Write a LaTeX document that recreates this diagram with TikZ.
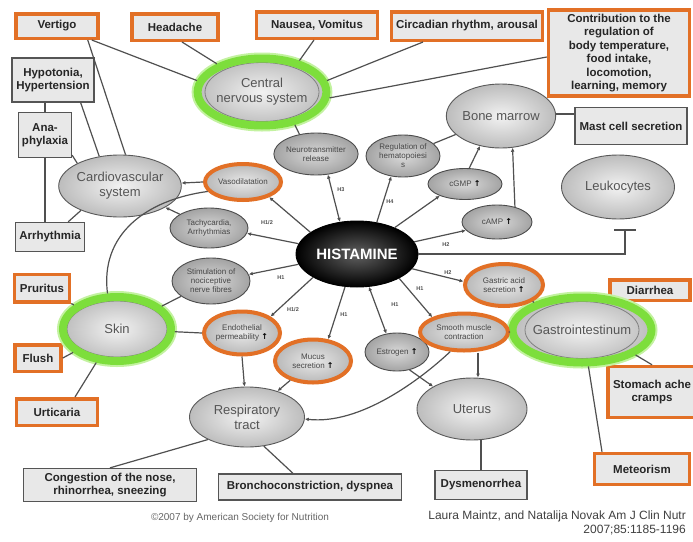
\documentclass[tikz,border=0pt]{standalone}
\usepackage{fontspec}
\setmainfont{Liberation Sans}
\newfontfamily\djv{DejaVu Sans}
\usetikzlibrary{shapes.geometric,arrows.meta}
\definecolor{ob}{RGB}{226,112,38}
\definecolor{gr}{RGB}{125,222,60}
\definecolor{grl}{RGB}{195,242,160}
\definecolor{bxf}{RGB}{232,232,232}
\definecolor{bxd}{RGB}{85,85,85}
\definecolor{lnc}{RGB}{80,80,80}
\definecolor{txg}{RGB}{85,85,85}
\newcommand{\upar}{{\djv\bfseries\color{black}↑}}
\begin{document}
\begin{tikzpicture}[x=1pt,y=-1pt,
 box/.style={rectangle, fill=bxf, align=center, inner sep=1pt, text=black!85, font=\bfseries\fontsize{11.5}{13.5}\selectfont},
 obox/.style={box, draw=ob, line width=3.5pt},
 gbox/.style={box, draw=bxd, line width=1.3pt},
 bigell/.style={ellipse, draw=black!65, line width=0.9pt, shade, inner color=gray!10, outer color=gray!52, align=center, inner sep=0pt, text=txg, font=\fontsize{13}{15}\selectfont},
 smell/.style={ellipse, draw=black!70, line width=0.9pt, shade, inner color=gray!30, outer color=gray!72, align=center, inner sep=0pt, text=black!72, font=\fontsize{8}{9}\selectfont},
 oring/.style={draw=ob, line width=4pt, inner color=gray!18, outer color=gray!55},
 gring/.style 2 args={draw=gr, line width=8pt, preaction={draw=grl, line width=12pt},
   path picture={\draw[black!50, line width=0.8pt] (path picture bounding box.center) ellipse [x radius=#1, y radius=#2];}},
 ln/.style={draw=lnc, line width=1.2pt},
 arr/.style={ln, -{Latex[length=4pt,width=3.8pt]}},
 darr/.style={ln, {Latex[length=4pt,width=3.8pt]}-{Latex[length=4pt,width=3.8pt]}},
 hl/.style={font=\bfseries\fontsize{5.5}{6}\selectfont, text=black!70, inner sep=0pt}
]
\fill[white] (0,0) rectangle (693,541);
\useasboundingbox (0,0) rectangle (693,541);

% boxes
\node[obox, minimum width=82, minimum height=24.5] (vert) at (57,26) {Vertigo};
\node[obox, minimum width=86, minimum height=26.5] (head) at (175,27) {Headache};
\node[obox, minimum width=121, minimum height=26.5] (naus) at (317,25) {Nausea, Vomitus};
\node[obox, minimum width=151, minimum height=28.5] (circ) at (467,26) {Circadian rhythm, arousal};
\node[obox, minimum width=141, minimum height=86] (contr) at (619,53) {Contribution to the\\regulation of\\body temperature,\\food intake,\\locomotion,\\learning, memory};
\node[obox, minimum width=55, minimum height=27.5] (prur) at (42,288) {Pruritus};
\node[obox, minimum width=46, minimum height=26.5] (flush) at (38,358) {Flush};
\node[obox, minimum width=81, minimum height=26.5] (urt) at (57,412) {Urticaria};
\node[obox, minimum width=80, minimum height=20.5] (diar) at (650,290) {Diarrhea};
\node[obox, minimum width=88, minimum height=51] (stom) at (652,392) {Stomach ache\\cramps};
\node[obox, minimum width=95, minimum height=31] (meteor) at (642,469) {Meteorism};
\node[gbox, minimum width=82, minimum height=44] (hypo) at (53,80) {Hypotonia,\\Hypertension};
\node[gbox, minimum width=53, minimum height=45] (ana) at (45,135) {Ana-\\phylaxia};
\node[gbox, minimum width=69, minimum height=29] (arr) at (50,237) {Arrhythmia};
\node[gbox, minimum width=112, minimum height=37] (mast) at (631,126) {Mast cell secretion};
\node[gbox, minimum width=92, minimum height=29] (dysm) at (481,485) {Dysmenorrhea};
\node[gbox, minimum width=173, minimum height=33] (cong) at (110,485) {Congestion of the nose,\\rhinorrhea, sneezing};
\node[gbox, minimum width=183, minimum height=26] (bron) at (310,487) {Bronchoconstriction, dyspnea};

% big ellipses
\node[bigell, gring={57pt}{29.5pt}, minimum width=122, minimum height=67] (cns) at (262,92) {Central\\nervous system};
\node[bigell, gring={50pt}{28pt}, minimum width=108, minimum height=64] (skin) at (117,329) {Skin};
\node[bigell, gring={57pt}{28.5pt}, minimum width=123, minimum height=65] (gastro) at (582,330) {Gastrointestinum};
\node[bigell, minimum width=110, minimum height=62] (cv) at (120,186) {Cardiovascular\\system};
\node[bigell, minimum width=102, minimum height=64] (bm) at (501,116) {Bone marrow};
\node[bigell, minimum width=113, minimum height=64] (leuk) at (618,187) {Leukocytes};
\node[bigell, minimum width=115, minimum height=60] (resp) at (247,417) {Respiratory\\tract};
\node[bigell, minimum width=110, minimum height=62] (uterus) at (472,409) {Uterus};
\node[ellipse, draw=black, line width=0.9pt, shade, inner color=black!62, outer color=black, minimum width=122, minimum height=66, inner sep=0pt, text=white, font=\bfseries\fontsize{15}{17}\selectfont] (hist) at (357,254) {HISTAMINE};

% small ellipses
\node[smell, minimum width=82, minimum height=42] (ntr) at (316,154) {Neurotransmitter\\release};
\node[smell, minimum width=74, minimum height=42] (hema) at (403,156) {Regulation of\\hematopoiesi\\s};
\node[smell, minimum width=74, minimum height=31] (cgmp) at (465,184) {cGMP \upar};
\node[smell, minimum width=70, minimum height=34] (camp) at (497,222) {cAMP \upar};
\node[smell, minimum width=78, minimum height=40] (tachy) at (209,228) {Tachycardia,\\Arrhythmias};
\node[smell, minimum width=78, minimum height=46] (noci) at (211,281) {Stimulation of\\nociceptive\\nerve fibres};
\node[smell, minimum width=64, minimum height=38] (estro) at (397,352) {Estrogen \upar};
\node[smell, oring, minimum width=76, minimum height=36] (vaso) at (243,182) {Vasodilatation};
\node[smell, oring, minimum width=76, minimum height=43] (endo) at (242,333) {Endothelial\\permeability \upar};
\node[smell, oring, minimum width=76, minimum height=43] (mucus) at (313,361) {Mucus\\secretion \upar};
\node[smell, oring, minimum width=88, minimum height=37] (smooth) at (464,332) {Smooth muscle\\contraction};
\node[smell, oring, minimum width=78, minimum height=42] (gastric) at (504,285) {Gastric acid\\secretion \upar};

\coordinate (lb) at (625,229);

% connectors: CNS
\draw[ln] ([xshift=-8pt]vert.south east) -- (cns.170);
\draw[ln] ([xshift=-12pt]vert.south east) -- (cv.80);
\draw[ln] ([xshift=7pt]head.south) -- (cns.148);
\draw[ln] ([xshift=-3pt]naus.south) -- (cns.40);
\draw[ln] ([xshift=-44pt]circ.south) -- (cns.10);
\draw[ln] ([yshift=-4pt]contr.west) -- (cns.-5);
\draw[ln] (cns.-45) -- (ntr.130);
% cardiovascular
\draw[ln] (ana.north) -- (ana.north |- hypo.south);
\draw[ln] ([xshift=-14pt]hypo.south east) -- (cv.125);
\draw[ln] ([yshift=3pt]ana.south east) -- (cv.152);
\draw[ln] (ana.south) -- (ana.south |- arr.north);
\draw[ln] ([xshift=-17pt]arr.north east) -- (cv.212);
\draw[arr] (vaso.west) -- (cv);
\draw[arr] (tachy) -- (cv);
% skin
\draw[ln] (skin.105) .. controls (100,235) and (145,200) .. (vaso.195);
\draw[ln] (prur.south east) -- (skin);
\draw[ln] (flush.east) -- (skin);
\draw[ln] ([xshift=18pt]urt.north) -- (skin);
\draw[ln] (endo.west) -- (skin);
\draw[ln] (noci) -- (skin);
% respiratory
\draw[arr] (endo.south) -- (resp);
\draw[arr] (mucus) -- (resp);
\draw[arr] (smooth.235) .. controls (420,380) and (360,425) .. (resp.-2);
\draw[ln] (cong.north) -- (resp.210);
\draw[ln] ([xshift=-17pt]bron.north) -- (resp.-60);
% uterus, GI
\draw[arr] ([xshift=14pt]smooth.south) -- ([xshift=14pt]smooth.south |- uterus.north);
\draw[arr] (estro.-55) -- (uterus.150);
\draw[ln] (dysm.north) -- (dysm.north |- uterus.south);
\draw[ln] (smooth.east) -- (gastro);
\draw[ln] (gastric) -- (gastro);
\draw[ln] (gastro.-25) -- (stom.north);
\draw[ln] (gastro.-80) -- ([xshift=-40pt]meteor.north);
% bone marrow
\draw[ln] ([yshift=2pt]bm.east) -- ([yshift=2pt]bm.east -| mast.west);
\draw[ln] (hema) -- (bm);
\draw[arr] (cgmp.75) -- (bm.235);
\draw[arr] (camp.40) -- (bm.290);
% histamine
\draw[darr] (ntr.-60) -- (hist.118);
\draw[arr] (hist.58) -- (hema.-120);
\draw[arr] (hist.35) -- (cgmp.205);
\draw[arr] (hist.12) -- (camp.195);
\draw[arr] (hist.155) -- (vaso.-30);
\draw[arr] (hist.170) -- (tachy.-8);
\draw[arr] (hist.190) -- (noci.10);
\draw[arr] (hist.208) -- (endo.30);
\draw[arr] (hist.250) -- (mucus.55);
\draw[darr] (hist.290) -- (estro.120);
\draw[arr] (hist.-30) -- (smooth.155);
\draw[arr] (hist.-15) -- (gastric.175);
\draw[ln, -{Bar[width=22pt,line width=1.6pt]}] (hist.east) -| (lb);

% receptor labels
\node[hl] (l1) at (341,190) {H3};
\node[hl] (l2) at (390,202) {H4};
\node[hl] (l3) at (267,223) {H1/2};
\node[hl] (l4) at (446,245) {H2};
\node[hl] (l5) at (281,278) {H1};
\node[hl] (l6) at (293,310) {H1/2};
\node[hl] (l7) at (344,315) {H1};
\node[hl] (l8) at (395,305) {H1};
\node[hl] (l9) at (420,289) {H1};
\node[hl] (l10) at (448,273) {H2};

% footer
\node[anchor=base, inner sep=0pt, font=\fontsize{10}{11}\selectfont, text=black!60] (cpy) at (240,520) {©2007 by American Society for Nutrition};
\node[anchor=north east, align=right, inner sep=0pt, font=\fontsize{12}{13.5}\selectfont, text=black!75] (cit) at (686,511) {Laura Maintz, and Natalija Novak Am J Clin Nutr\\2007;85:1185-1196};
\end{tikzpicture}
\end{document}
